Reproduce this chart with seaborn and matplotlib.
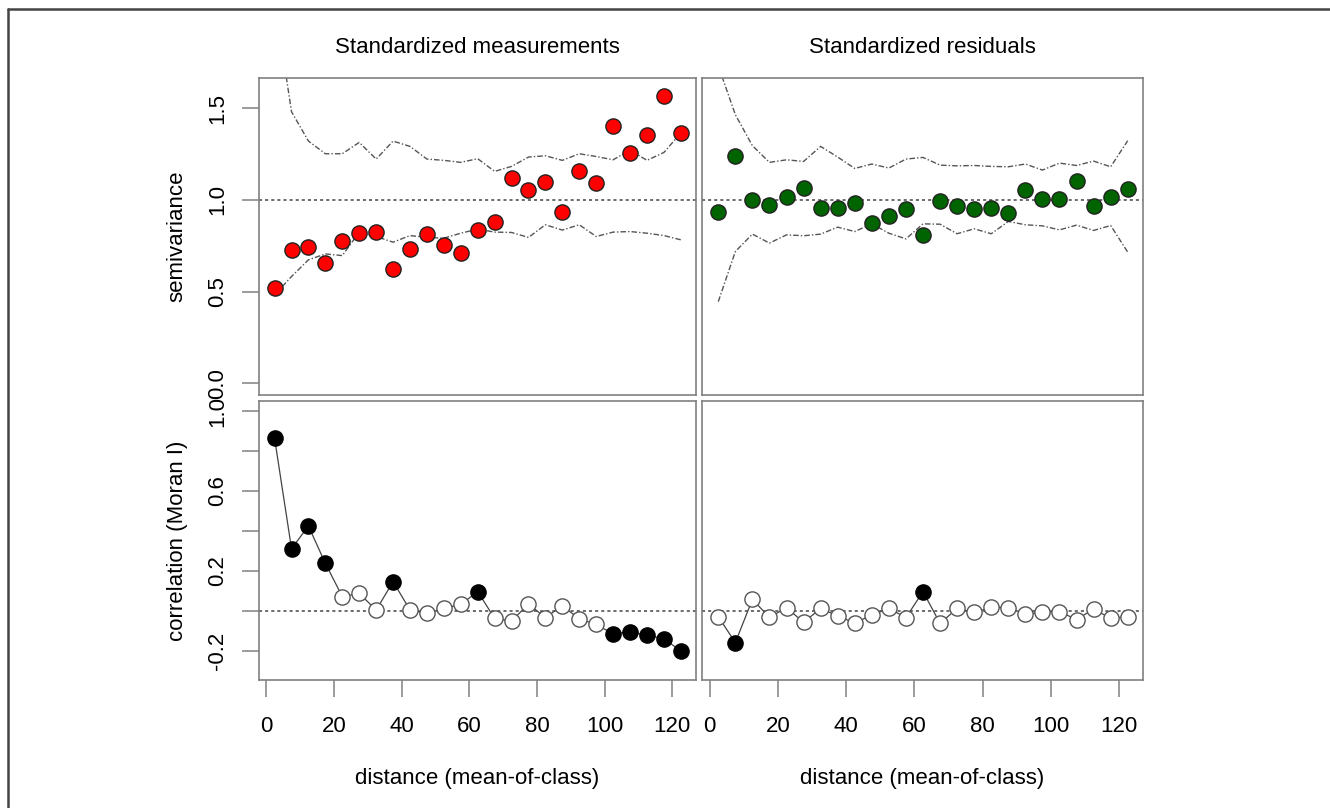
import numpy as np
import pandas as pd
import matplotlib.pyplot as plt
import seaborn as sns
from matplotlib.lines import Line2D

sns.set_theme(style="white")
plt.rcParams["font.family"] = ["Liberation Sans", "DejaVu Sans"]
plt.rcParams["text.color"] = "black"
plt.rcParams["axes.labelcolor"] = "black"

# distance classes (mean-of-class)
distance = [2.5, 7.5, 12.5, 17.5, 22.5, 27.5, 32.5, 37.5, 42.5, 47.5, 52.5, 57.5, 62.5,
            67.5, 72.5, 77.5, 82.5, 87.5, 92.5, 97.5, 102.5, 107.5, 112.5, 117.5, 122.5]

# semivariance - standardized measurements
semi_meas = [0.52, 0.725, 0.742, 0.656, 0.776, 0.82, 0.827, 0.624, 0.733, 0.811, 0.751, 0.711,
             0.836, 0.88, 1.12, 1.056, 1.095, 0.933, 1.158, 1.091, 1.402, 1.253, 1.351, 1.567, 1.362]
env_meas_hi = [2.09, 1.48, 1.32, 1.251, 1.251, 1.313, 1.222, 1.32, 1.291, 1.222, 1.215, 1.204,
               1.224, 1.155, 1.182, 1.233, 1.24, 1.215, 1.251, 1.236, 1.218, 1.271, 1.215, 1.258, 1.364]
env_meas_lo = [0.482, 0.582, 0.673, 0.705, 0.696, 0.824, 0.8, 0.769, 0.805, 0.795, 0.791, 0.818,
               0.84, 0.824, 0.822, 0.795, 0.864, 0.835, 0.864, 0.8, 0.824, 0.827, 0.818, 0.805, 0.782]

# semivariance - standardized residuals
semi_res = [0.933, 1.24, 1.0, 0.969, 1.016, 1.067, 0.956, 0.956, 0.982, 0.875, 0.911, 0.951,
            0.809, 0.996, 0.965, 0.949, 0.956, 0.927, 1.055, 1.002, 1.004, 1.1, 0.964, 1.018, 1.06]
env_res_hi = [1.73, 1.464, 1.295, 1.204, 1.218, 1.209, 1.291, 1.233, 1.171, 1.195, 1.173, 1.222,
              1.231, 1.189, 1.185, 1.187, 1.182, 1.18, 1.195, 1.162, 1.2, 1.187, 1.211, 1.18, 1.322]
env_res_lo = [0.445, 0.718, 0.813, 0.764, 0.809, 0.804, 0.813, 0.851, 0.827, 0.869, 0.818, 0.787,
              0.869, 0.867, 0.815, 0.842, 0.815, 0.882, 0.864, 0.858, 0.836, 0.862, 0.833, 0.86, 0.715]

# Moran I correlograms (significant = filled)
moran_meas = [0.863, 0.312, 0.425, 0.238, 0.072, 0.088, 0.005, 0.147, 0.005, -0.012, 0.013, 0.033,
              0.097, -0.037, -0.05, 0.035, -0.033, 0.027, -0.04, -0.067, -0.115, -0.103, -0.122, -0.138, -0.2]
sig_meas = [1, 1, 1, 1, 0, 0, 0, 1, 0, 0, 0, 0, 1, 0, 0, 0, 0, 0, 0, 0, 1, 1, 1, 1, 1]
moran_res = [-0.028, -0.158, 0.058, -0.032, 0.017, -0.057, 0.013, -0.025, -0.06, -0.02, 0.013, -0.033,
             0.097, -0.062, 0.013, -0.007, 0.018, 0.017, -0.015, -0.007, -0.003, -0.043, 0.01, -0.037, -0.028]
sig_res = [0, 1, 0, 0, 0, 0, 0, 0, 0, 0, 0, 0, 1, 0, 0, 0, 0, 0, 0, 0, 0, 0, 0, 0, 0]

fig = plt.figure(figsize=(13.3, 8.08), dpi=100)
L1, R1, L2, R2 = 0.1945, 0.5231, 0.528, 0.8592
TOP_B, TOP_T, BOT_B, BOT_T = 0.5111, 0.9035, 0.1584, 0.5037
ax_tl = fig.add_axes([L1, TOP_B, R1 - L1, TOP_T - TOP_B])
ax_tr = fig.add_axes([L2, TOP_B, R2 - L2, TOP_T - TOP_B])
ax_bl = fig.add_axes([L1, BOT_B, R1 - L1, BOT_T - BOT_B])
ax_br = fig.add_axes([L2, BOT_B, R2 - L2, BOT_T - BOT_B])

env_style = dict(color="#555555", lw=1.0, linestyle=(0, (4, 1.5, 1, 1.5)))
ref_style = dict(color="#444444", lw=1.1, linestyle=(0, (2, 2)))
msize = 120

def semi_panel(ax, vals, hi, lo, color):
    df = pd.DataFrame({"d": distance, "v": vals, "hi": hi, "lo": lo})
    ax.axhline(1.0, **ref_style, zorder=1)
    sns.lineplot(data=df, x="d", y="hi", ax=ax, estimator=None, sort=False, zorder=2, **env_style)
    sns.lineplot(data=df, x="d", y="lo", ax=ax, estimator=None, sort=False, zorder=2, **env_style)
    sns.scatterplot(data=df, x="d", y="v", ax=ax, color=color, edgecolor="#222222",
                    s=msize, linewidth=1.0, zorder=3)
    ax.set_ylim(-0.064, 1.664)

def moran_panel(ax, vals, sig):
    df = pd.DataFrame({"d": distance, "v": vals, "sig": sig})
    ax.axhline(0.0, **ref_style, zorder=1)
    sns.lineplot(data=df, x="d", y="v", ax=ax, estimator=None, sort=False,
                 color="#444444", lw=0.9, zorder=2)
    open_pts = df[df["sig"] == 0]
    fill_pts = df[df["sig"] == 1]
    sns.scatterplot(data=open_pts, x="d", y="v", ax=ax, color="white", edgecolor="#555555",
                    s=msize, linewidth=1.0, zorder=3)
    sns.scatterplot(data=fill_pts, x="d", y="v", ax=ax, color="black", edgecolor="black",
                    s=msize, linewidth=1.0, zorder=4)
    ax.set_ylim(-0.345, 1.05)

semi_panel(ax_tl, semi_meas, env_meas_hi, env_meas_lo, "#ff0000")
semi_panel(ax_tr, semi_res, env_res_hi, env_res_lo, "#006400")
moran_panel(ax_bl, moran_meas, sig_meas)
moran_panel(ax_br, moran_res, sig_res)

for ax in [ax_tl, ax_tr, ax_bl, ax_br]:
    ax.set_xlim(-2.2, 126.9)
    ax.set_xlabel("")
    ax.set_ylabel("")
    for sp in ax.spines.values():
        sp.set_color("#808080")
        sp.set_linewidth(1.2)
    ax.tick_params(length=12, width=1.1, color="#808080", labelsize=16,
                   labelcolor="black")

for ax in [ax_tl, ax_tr]:
    ax.set_xticks([])
for ax in [ax_tr, ax_br]:
    ax.set_yticks([])

xt = [0, 20, 40, 60, 80, 100, 120]
for ax in [ax_bl, ax_br]:
    ax.set_xticks(xt)
    ax.set_xticklabels([str(v) for v in xt])
    ax.tick_params(axis="x", pad=14, bottom=True)
    ax.set_xlabel("distance (mean-of-class)", fontsize=16, labelpad=22, color="black")

ax_tl.set_yticks([0.0, 0.5, 1.0, 1.5])
ax_tl.set_yticklabels(["0.0", "0.5", "1.0", "1.5"], rotation=90, va="center")
ax_bl.set_yticks([-0.2, 0.0, 0.2, 0.4, 0.6, 0.8, 1.0])
ax_bl.set_yticklabels(["-0.2", "", "0.2", "", "0.6", "", "1.0"], rotation=90, va="center")
for ax in [ax_tl, ax_bl]:
    ax.tick_params(axis="y", pad=10, left=True)
ax_tl.set_ylabel("semivariance", fontsize=16, labelpad=14, color="black")
ax_bl.set_ylabel("correlation (Moran I)", fontsize=16, labelpad=14, color="black")

ax_tl.set_title("Standardized measurements", fontsize=16, pad=18, color="black")
ax_tr.set_title("Standardized residuals", fontsize=16, pad=18, color="black")

# outer frame
fig.add_artist(Line2D([8 / 1330, 1.0], [1 - 9 / 808, 1 - 9 / 808], transform=fig.transFigure,
                      color="#444444", lw=1.8))
fig.add_artist(Line2D([8 / 1330, 8 / 1330], [0.0, 1 - 9 / 808], transform=fig.transFigure,
                      color="#444444", lw=1.8))

fig.savefig("out.png", dpi=100)
